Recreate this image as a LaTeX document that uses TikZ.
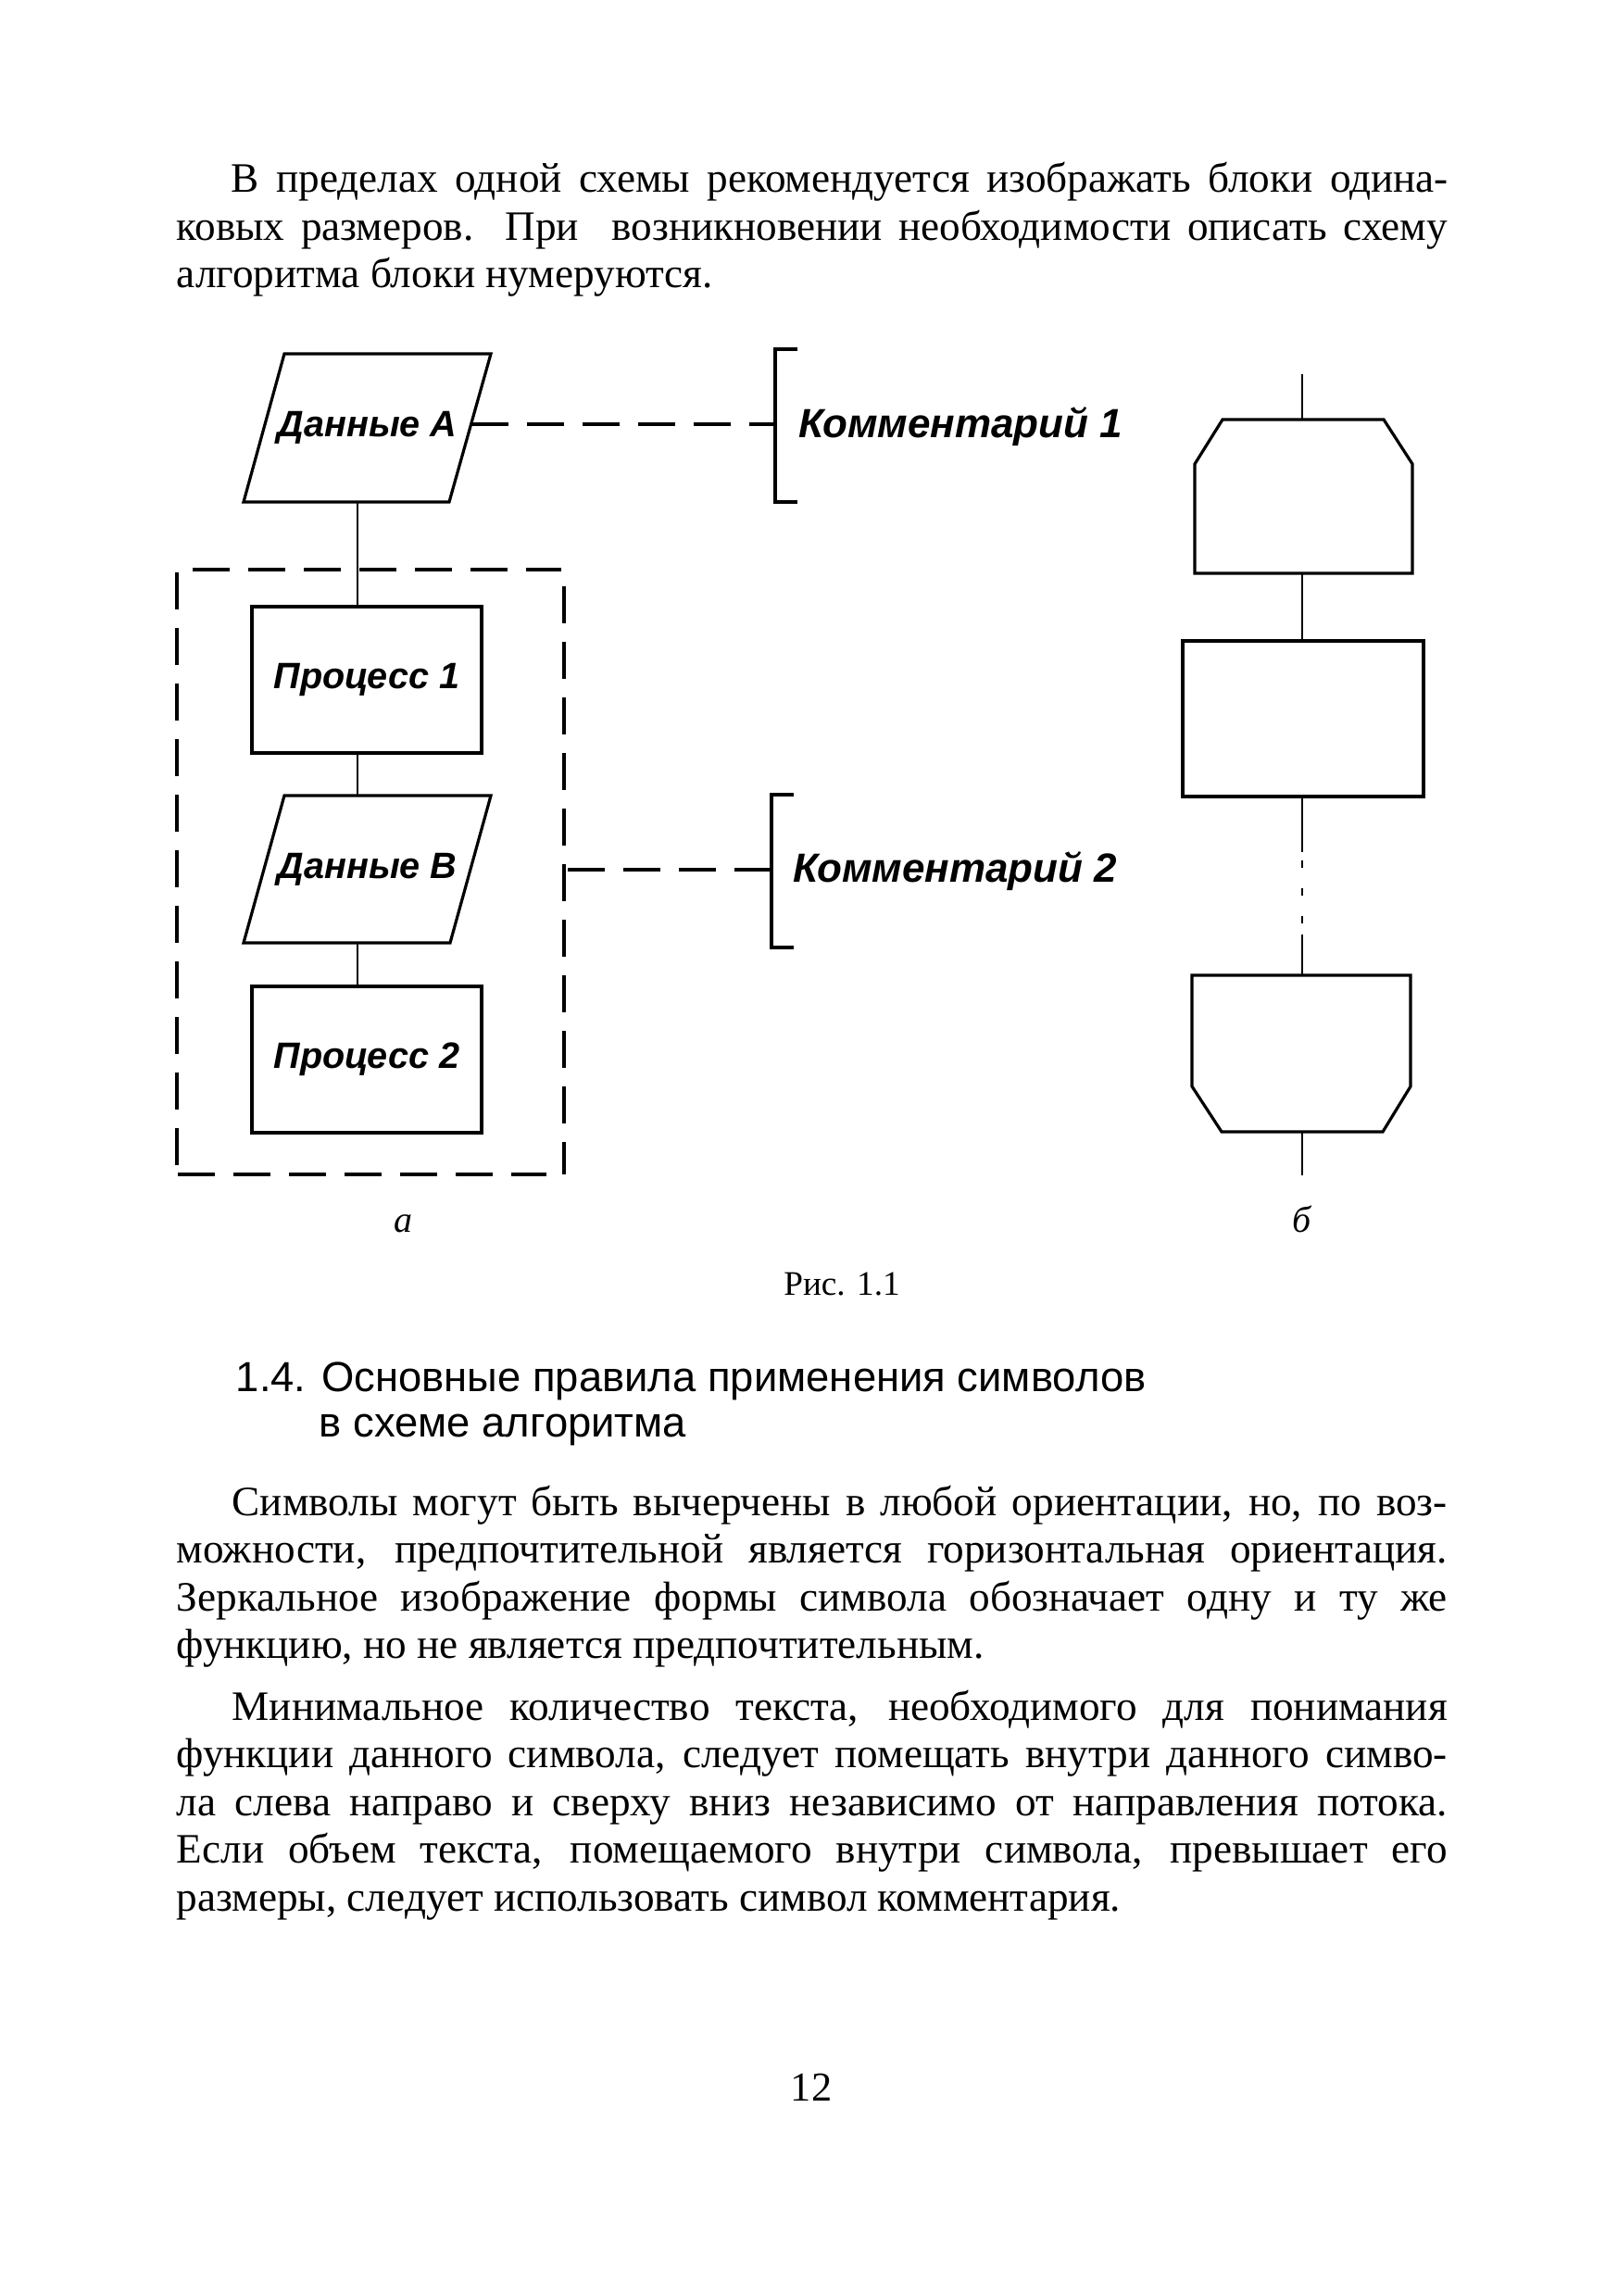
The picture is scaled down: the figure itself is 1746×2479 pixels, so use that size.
\documentclass[tikz,border=0pt]{standalone}
\usepackage{fontspec}
\setmainfont{Liberation Serif}
\newfontfamily\arialf{Liberation Sans}
\usetikzlibrary{calc}
\newcommand{\jl}[2]{\makebox[#1][s]{#2}}
\begin{document}
\begin{tikzpicture}[x=0.25pt,y=-0.25pt,
  shp/.style={line width=0.8pt, line join=miter},
  conn/.style={line width=0.7pt},
  dsh/.style={line width=0.85pt, dash pattern=on 10pt off 5pt},
  brk/.style={line width=0.9pt},
  blk/.style={inner sep=0pt, font=\arialf\bfseries\itshape\fontsize{9.9}{11}\selectfont},
  cmt/.style={inner sep=0pt, anchor=base west, font=\arialf\bfseries\itshape\fontsize{11}{13}\selectfont},
  body/.style={inner sep=0pt, anchor=base west, font=\fontsize{11.3}{12.9}\selectfont},
  head/.style={inner sep=0pt, anchor=base west, font=\arialf\fontsize{11.35}{13}\selectfont},
  lbl/.style={inner sep=0pt, anchor=base, font=\itshape\fontsize{10}{12}\selectfont},
]
\useasboundingbox[fill=white] (0,0) rectangle (1746,2479);

% ---------- paragraph 1 ----------
\node[body] (t1) at (249,208) {\jl{328.5pt}{В пределах одной схемы рекомендуется изображать блоки одина-}};
\node[body] (t2) at (190,259.5) {\jl{343pt}{ковых размеров. При\ \ возникновении необходимости описать схему}};
\node[body] (t3) at (190,311) {алгоритма блоки нумеруются.};

% ---------- figure a ----------
\coordinate (ax) at (386,0);
\node[blk, minimum width=55.75pt, minimum height=40pt] (A) at (396.5,462) {Данные A};
\draw[shp] (307,382) -- (530,382) -- (485,542) -- (263,542) -- cycle;
\node[blk, draw, shp, minimum width=62pt, minimum height=39.5pt] (P1) at (396,734) {Процесс 1};
\node[blk, minimum width=55.75pt, minimum height=39.75pt] (B) at (396.5,938.5) {Данные B};
\draw[shp] (307,859) -- (530,859) -- (486,1018) -- (263,1018) -- cycle;
\node[blk, draw, shp, minimum width=62pt, minimum height=39.5pt] (P2) at (396,1144) {Процесс 2};

\draw[conn] (A.south -| ax) -- (P1.north -| ax);
\draw[conn] (P1.south -| ax) -- (B.north -| ax);
\draw[conn] (B.south -| ax) -- (P2.north -| ax);

% dashed group box
\draw[dsh] (208,615) -- (606,615);
\draw[dsh] (609,633) -- (609,1268);
\draw[dsh] (191,618) -- (191,1268);
\draw[dsh] (192,1268) -- (590,1268);
\coordinate (g2) at (609,939);

% comment 1
\coordinate (b1) at (837,458);
\draw[brk] (861,377) -- (837,377) -- (837,542) -- (861,542);
\draw[dsh] ([yshift=1pt]A.east) -- ([yshift=1pt]A.east -| b1);
\node[cmt] (C1) at (862,473) {Комментарий 1};

% comment 2
\coordinate (b2) at (833,939);
\draw[brk] (857,858) -- (833,858) -- (833,1023) -- (857,1023);
\draw[dsh] (b2) -- (g2);
\node[cmt] (C2) at (856,953) {Комментарий 2};

% ---------- figure b ----------
\coordinate (top) at (1406,404);
\coordinate (bot) at (1406,1269);
\node[inner sep=0pt, minimum width=58.75pt, minimum height=41.5pt] (L1) at (1407.5,536) {};
\draw[shp] (1320,453) -- (1494,453) -- (1525,501) -- (1525,619) -- (1290,619) -- (1290,501) -- cycle;
\node[draw, shp, inner sep=0pt, minimum width=65pt, minimum height=42pt] (R) at (1407,776) {};
\node[inner sep=0pt, minimum width=59pt, minimum height=42.25pt] (L2) at (1405,1137.5) {};
\draw[shp] (1287,1053) -- (1523,1053) -- (1523,1173) -- (1493,1222) -- (1319,1222) -- (1287,1173) -- cycle;

\draw[conn] (top) -- (top |- L1.north);
\draw[conn] (top |- L1.south) -- (top |- R.north);
\draw[conn, dash pattern=on 14.5pt off 2.25pt on 2pt off 5.5pt on 2pt off 5.5pt on 2pt off 3pt on 30pt]
  (top |- R.south) -- (top |- L2.north);
\draw[conn] (top |- L2.south) -- (bot);

% labels
\node[lbl] (la) at (435,1330) {а};
\node[lbl] (lb) at (1406,1330) {б};
\node[inner sep=0pt, anchor=base, font=\fontsize{9.3}{11}\selectfont] (cap) at (909,1398) {Рис. 1.1};

% ---------- heading ----------
\node[head] (h1) at (254,1502) {1.4. Основные правила применения символов};
\node[head] (h2) at (344,1551) {в схеме алгоритма};

% ---------- paragraph 2 ----------
\node[body] (s1) at (250,1636) {\jl{328pt}{Символы могут быть вычерчены в любой ориентации, но, по воз-}};
\node[body] (s2) at (190,1687.5) {\jl{343pt}{можности, предпочтительной является горизонтальная ориентация.}};
\node[body] (s3) at (190,1739) {\jl{343pt}{Зеркальное изображение формы символа обозначает одну и ту же}};
\node[body] (s4) at (190,1790.5) {функцию, но не является предпочтительным.};

% ---------- paragraph 3 ----------
\node[body] (m1) at (250,1857) {\jl{328pt}{Минимальное количество текста, необходимого для понимания}};
\node[body] (m2) at (190,1908.5) {\jl{343pt}{функции данного символа, следует помещать внутри данного симво-}};
\node[body] (m3) at (190,1960) {\jl{343pt}{ла слева направо и сверху вниз независимо от направления потока.}};
\node[body] (m4) at (190,2011.5) {\jl{343pt}{Если объем текста, помещаемого внутри символа, превышает его}};
\node[body] (m5) at (190,2063) {размеры, следует использовать символ комментария.};

% page number
\node[inner sep=0pt, anchor=base, font=\fontsize{11.1}{13}\selectfont] (pg) at (876,2268) {12};
\end{tikzpicture}
\end{document}
